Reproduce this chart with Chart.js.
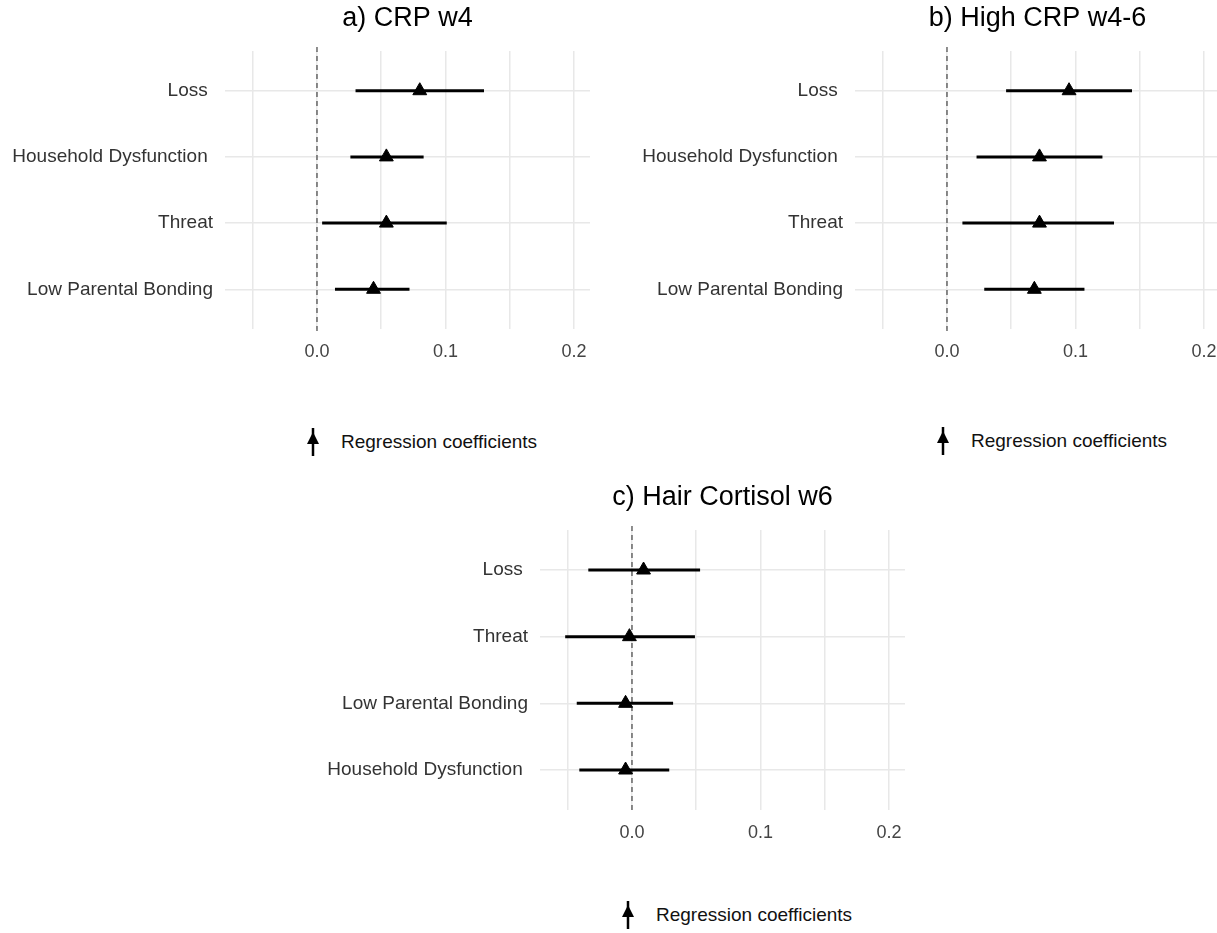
<!DOCTYPE html>
<html>
<head>
<meta charset="utf-8">
<script src="https://cdn.jsdelivr.net/npm/chart.js@4.4.0/dist/chart.umd.min.js"></script>
<style>
  body { margin: 0; width: 1217px; height: 933px; overflow: hidden; background: #fff; position: relative; font-family: "Liberation Sans", Arial, sans-serif; }
  canvas { position: absolute; }
  .legend { position: absolute; font-size: 19px; color: #111; white-space: nowrap; }
  .legend svg { position: absolute; }
</style>
</head>
<body>
<canvas id="chartA" width="600" height="380" style="left:0px;top:0px;"></canvas>
<canvas id="chartB" width="600" height="380" style="left:630px;top:0px;"></canvas>
<canvas id="chartC" width="600" height="381" style="left:315px;top:480px;"></canvas>

<div class="legend" style="left:305px;top:428px;">
  <svg width="16" height="28" style="left:0;top:0"><line x1="8" y1="0" x2="8" y2="28" stroke="#000" stroke-width="2.5"/><polygon points="8,4 2,16 14,16" fill="#000"/></svg>
  <span style="position:absolute;left:36px;top:3px;">Regression coefficients</span>
</div>
<div class="legend" style="left:935px;top:427px;">
  <svg width="16" height="28" style="left:0;top:0"><line x1="8" y1="0" x2="8" y2="28" stroke="#000" stroke-width="2.5"/><polygon points="8,4 2,16 14,16" fill="#000"/></svg>
  <span style="position:absolute;left:36px;top:3px;">Regression coefficients</span>
</div>
<div class="legend" style="left:620px;top:901px;">
  <svg width="16" height="28" style="left:0;top:0"><line x1="8" y1="0" x2="8" y2="28" stroke="#000" stroke-width="2.5"/><polygon points="8,4 2,16 14,16" fill="#000"/></svg>
  <span style="position:absolute;left:36px;top:3px;">Regression coefficients</span>
</div>

<script>
// x axis
const xTicks = [-0.05, 0, 0.05, 0.1, 0.15, 0.2];
const xTickLabels = ['', '0.0', '', '0.1', '', '0.2'];
const xMin = -0.0716;
const xMax = 0.2125;

// a) CRP w4
const titleA = 'a) CRP w4';
const rowsA = ['Loss ', 'Household Dysfunction ', 'Threat', 'Low Parental Bonding'];
const estA = [0.080, 0.054, 0.054, 0.044];
const lowA = [0.030, 0.026, 0.004, 0.014];
const highA = [0.130, 0.083, 0.101, 0.072];

// b) High CRP w4-6
const titleB = 'b) High CRP w4-6';
const rowsB = ['Loss ', 'Household Dysfunction ', 'Threat', 'Low Parental Bonding'];
const estB = [0.095, 0.072, 0.072, 0.068];
const lowB = [0.046, 0.023, 0.012, 0.029];
const highB = [0.144, 0.121, 0.130, 0.107];

// c) Hair Cortisol w6
const titleC = 'c) Hair Cortisol w6';
const rowsC = ['Loss ', 'Threat', 'Low Parental Bonding', 'Household Dysfunction '];
const estC = [0.009, -0.002, -0.005, -0.005];
const lowC = [-0.034, -0.052, -0.043, -0.041];
const highC = [0.053, 0.049, 0.032, 0.029];

const FONT = '"Liberation Sans", Arial, sans-serif';

// zero line + panel title
const forestPlugin = {
  id: 'forest',
  beforeDatasetsDraw(chart) {
    const ctx = chart.ctx;
    const area = chart.chartArea;
    const x0 = chart.scales.x.getPixelForValue(0);
    ctx.save();
    ctx.strokeStyle = '#444';
    ctx.lineWidth = 1.2;
    ctx.setLineDash([5, 4]);
    ctx.beginPath();
    ctx.moveTo(x0, area.top - 4);
    ctx.lineTo(x0, area.bottom + 2);
    ctx.stroke();
    ctx.restore();
  },
  afterDraw(chart) {
    const ctx = chart.ctx;
    const area = chart.chartArea;
    ctx.save();
    ctx.fillStyle = '#000';
    ctx.font = '27px ' + FONT;
    ctx.textAlign = 'center';
    ctx.textBaseline = 'middle';
    ctx.fillText(chart.options.panelTitle, (area.left + area.right) / 2, area.top - 32);
    ctx.restore();
  }
};

function makeForest(id, title, rows, est, low, high, padRight) {
  const datasets = [];
  rows.forEach((r, i) => {
    datasets.push({
      data: [{ x: low[i], y: i + 1 }, { x: high[i], y: i + 1 }],
      showLine: true,
      borderColor: '#000',
      borderWidth: 3,
      pointRadius: 0
    });
  });
  datasets.push({
    data: rows.map((r, i) => ({ x: est[i], y: i + 1 })),
    pointStyle: 'triangle',
    pointRadius: 8,
    backgroundColor: '#000',
    borderColor: '#000',
    borderWidth: 1
  });

  new Chart(document.getElementById(id), {
    type: 'scatter',
    data: { datasets },
    options: {
      panelTitle: title,
      responsive: false,
      animation: false,
      devicePixelRatio: 1,
      layout: { padding: { top: id === 'chartC' ? 50 : 51, right: padRight, bottom: 0, left: 0 } },
      plugins: { legend: { display: false }, tooltip: { enabled: false } },
      scales: {
        x: {
          type: 'linear',
          min: xMin,
          max: xMax,
          afterBuildTicks: s => { s.ticks = xTicks.map(v => ({ value: v })); },
          afterFit: s => { s.height = 51; s.paddingLeft = 0; s.paddingRight = 0; },
          ticks: {
            autoSkip: false,
            maxRotation: 0,
            padding: 12,
            color: '#444',
            font: { family: FONT, size: 18 },
            callback: (v, i) => xTickLabels[i]
          },
          grid: { color: '#e8e8e8', lineWidth: 1.5, drawTicks: false },
          border: { display: false }
        },
        y: {
          type: 'linear',
          reverse: true,
          min: 0.4,
          max: rows.length + 0.6,
          afterBuildTicks: s => { s.ticks = rows.map((r, i) => ({ value: i + 1 })); },
          afterFit: s => { s.width = 225; },
          ticks: {
            autoSkip: false,
            padding: 12,
            color: '#333',
            font: { family: FONT, size: 19 },
            callback: v => rows[v - 1]
          },
          grid: { color: '#e8e8e8', lineWidth: 1.5, drawTicks: false },
          border: { display: false }
        }
      }
    },
    plugins: [forestPlugin]
  });
}

makeForest('chartA', titleA, rowsA, estA, lowA, highA, 10);
makeForest('chartB', titleB, rowsB, estB, lowB, highB, 10);
makeForest('chartC', titleC, rowsC, estC, lowC, highC, 10);
</script>
</body>
</html>
